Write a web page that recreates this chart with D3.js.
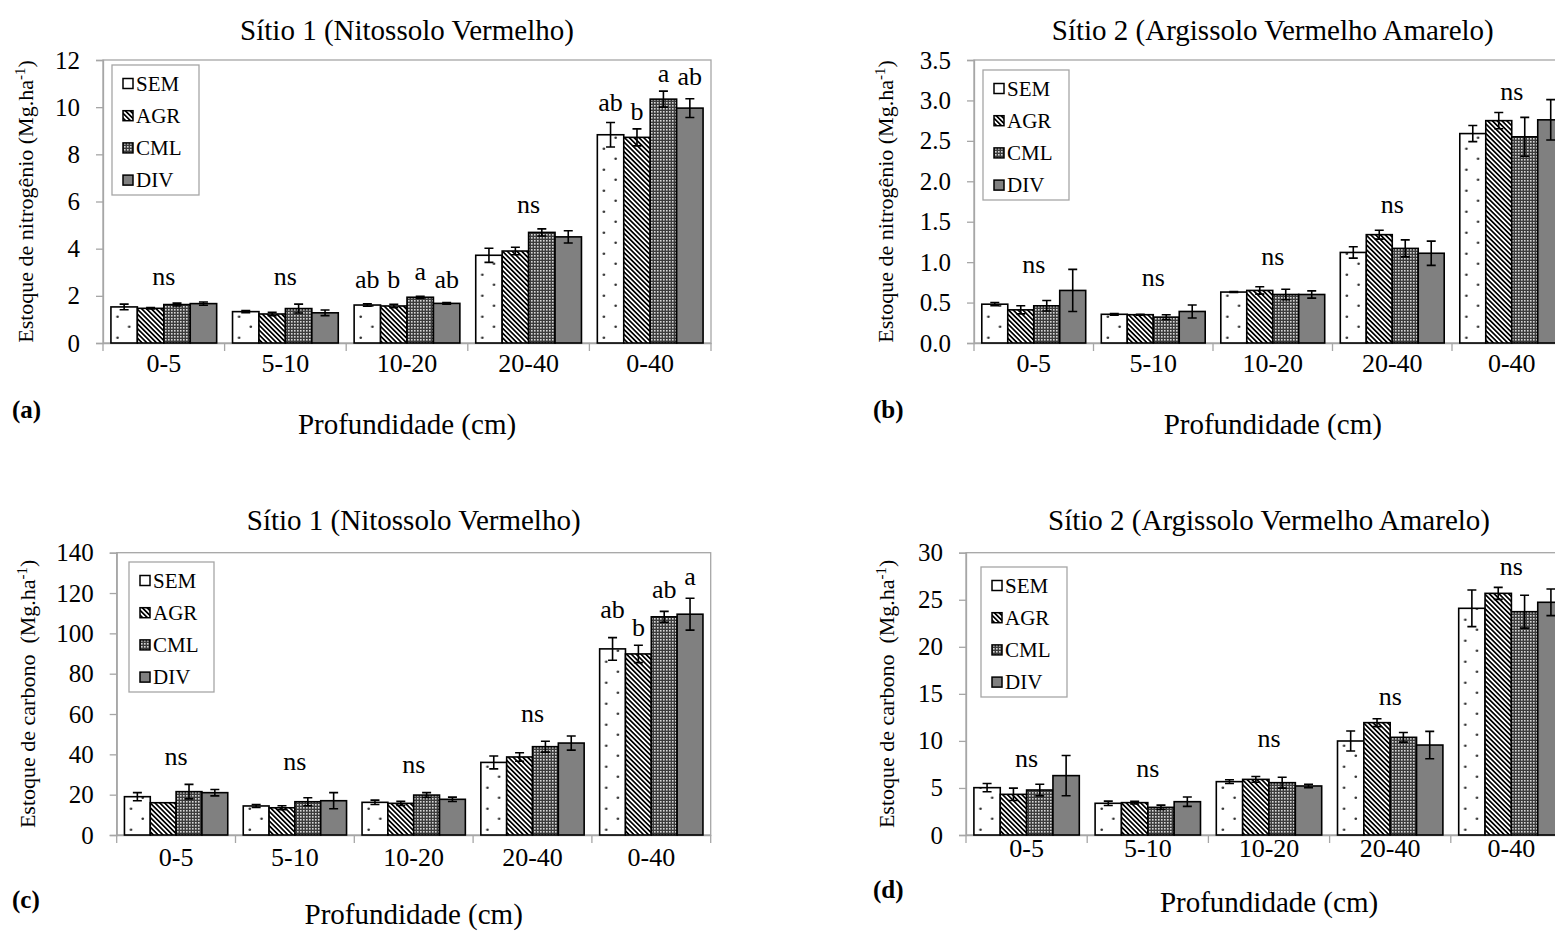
<!DOCTYPE html>
<html>
<head>
<meta charset="utf-8">
<script src="https://cdn.jsdelivr.net/npm/d3@7"></script>
<style>
  body { margin: 0; background: #fff; }
  text { font-family: "Liberation Serif", "Times New Roman", serif; fill: #000; }
</style>
</head>
<body>
<svg id="chart" width="1555" height="937"></svg>
<script>
// categories
const depths = ["0-5", "5-10", "10-20", "20-40", "0-40"];
const treatments = ["SEM", "AGR", "CML", "DIV"];

// (a) nitrogen stock, Sítio 1 — one row per depth, one value per treatment
const nSite1 = [[1.53, 1.47, 1.63, 1.67], [1.33, 1.23, 1.46, 1.28], [1.61, 1.57, 1.94, 1.68], [3.72, 3.90, 4.69, 4.50], [8.83, 8.72, 10.34, 9.96]];
const nSite1Err = [[0.12, 0.03, 0.06, 0.07], [0.05, 0.07, 0.19, 0.12], [0.05, 0.07, 0.04, 0.04], [0.30, 0.16, 0.15, 0.26], [0.52, 0.36, 0.34, 0.40]];
const nSite1Marks = [["ns"], ["ns"], ["ab", "b", "a", "ab"], ["ns"], ["ab", "b", "a", "ab"]];
const nSite1MarkY = [[2.46], [2.46], [2.32, 2.32, 2.67, 2.33], [5.51], [9.84, 9.45, 11.07, 10.93]];
const nSite1Ticks = [0, 2, 4, 6, 8, 10, 12];

// (b) nitrogen stock, Sítio 2
const nSite2 = [[0.48, 0.41, 0.46, 0.65], [0.355, 0.35, 0.32, 0.39], [0.63, 0.65, 0.60, 0.60], [1.12, 1.34, 1.17, 1.11], [2.59, 2.75, 2.55, 2.76]];
const nSite2Err = [[0.02, 0.05, 0.065, 0.26], [0.01, 0.005, 0.03, 0.08], [0.005, 0.045, 0.065, 0.045], [0.07, 0.055, 0.105, 0.15], [0.10, 0.10, 0.24, 0.25]];
const nSite2Marks = [["ns"], ["ns"], ["ns"], ["ns"], ["ns"]];
const nSite2MarkY = [[0.87], [0.70], [0.97], [1.61], [3.0]];
const nSite2Ticks = [0, 0.5, 1, 1.5, 2, 2.5, 3, 3.5];

// (c) carbon stock, Sítio 1
const cSite1 = [[19.0, 16.0, 21.5, 21.0], [14.4, 13.5, 16.5, 17.0], [16.2, 15.7, 19.8, 17.7], [36.0, 38.7, 43.8, 45.6], [92.3, 89.8, 108.2, 109.5]];
const cSite1Err = [[2.0, 0, 3.6, 1.6], [0.7, 1.0, 2.0, 4.0], [1.1, 1.0, 1.2, 1.1], [3.2, 2.1, 2.7, 3.5], [5.6, 4.3, 2.7, 7.9]];
const cSite1Marks = [["ns"], ["ns"], ["ns"], ["ns"], ["ab", "b", "ab", "a"]];
const cSite1MarkY = [[34.7], [32.2], [30.8], [56.2], [107.5, 98.7, 117.4, 124.0]];
const cSite1Ticks = [0, 20, 40, 60, 80, 100, 120, 140];

// (d) carbon stock, Sítio 2
const cSite2 = [[5.03, 4.32, 4.78, 6.31], [3.37, 3.44, 2.94, 3.54], [5.67, 5.91, 5.56, 5.21], [9.99, 11.94, 10.38, 9.56], [24.09, 25.68, 23.73, 24.73]];
const cSite2Err = [[0.44, 0.66, 0.62, 2.14], [0.23, 0.15, 0.23, 0.5], [0.2, 0.3, 0.58, 0.18], [1.06, 0.42, 0.51, 1.45], [1.95, 0.64, 1.75, 1.42]];
const cSite2Marks = [["ns"], ["ns"], ["ns"], ["ns"], ["ns"]];
const cSite2MarkY = [[7.19], [6.2], [9.38], [13.8], [27.6]];
const cSite2Ticks = [0, 5, 10, 15, 20, 25, 30];

const svg = d3.select("#chart");
const AXIS_GREY = "#a6a6a6";
// font sizes (px)
const FS_TICK = 25, FS_CAT = 26, FS_MARK = 26, FS_LEG = 21, FS_TITLE = 29, FS_YT = 22, FS_TAG = 25;

// ---- fill patterns ----
const defs = svg.append("defs");

const stripes = defs.append("pattern")
    .attr("id", "stripes")
    .attr("patternUnits", "userSpaceOnUse")
    .attr("width", 3.4).attr("height", 3.4)
    .attr("patternTransform", "rotate(-45)");
stripes.append("rect").attr("width", 3.4).attr("height", 3.4).attr("fill", "#fff");
stripes.append("rect").attr("width", 1.7).attr("height", 3.4).attr("fill", "#000");

const checks = defs.append("pattern")
    .attr("id", "checks")
    .attr("patternUnits", "userSpaceOnUse")
    .attr("width", 3).attr("height", 3);
checks.append("rect").attr("width", 3).attr("height", 3).attr("fill", "#3c3c3c");
checks.append("rect").attr("width", 1.6).attr("height", 1.6).attr("fill", "#d8d8d8");

// dotted fill for SEM bars, anchored to each bar so the dots line up like the original
function dotPattern(id, x, y) {
    const p = defs.append("pattern")
        .attr("id", id)
        .attr("patternUnits", "userSpaceOnUse")
        .attr("x", x).attr("y", y)
        .attr("width", 23.4).attr("height", 21);
    p.append("rect").attr("width", 23.4).attr("height", 21).attr("fill", "#fff");
    p.append("circle").attr("cx", 6.6).attr("cy", 15.7).attr("r", 1.3).attr("fill", "#333");
    p.append("circle").attr("cx", 18.3).attr("cy", 4.7).attr("r", 1.3).attr("fill", "#333");
    return `url(#${id})`;
}

const fills = { AGR: "url(#stripes)", CML: "url(#checks)", DIV: "#808080" };

// ---- panel layout ----
const panels = [
    { key: "a", vals: nSite1, errs: nSite1Err, marks: nSite1Marks, markY: nSite1MarkY, ticks: nSite1Ticks, fmt: d3.format("d"),
      x0: 103, x1: 711, y0: 60, y1: 343, title: "Sítio 1 (Nitossolo Vermelho)", titleY: 40,
      yLabel: "Estoque de nitrogênio (Mg.ha", yLabelX: 33, catY: 372, xLabelY: 434, tagX: 12, tagY: 418,
      legend: [112, 65, 87, 130] },
    { key: "b", vals: nSite2, errs: nSite2Err, marks: nSite2Marks, markY: nSite2MarkY, ticks: nSite2Ticks, fmt: d3.format(".1f"),
      x0: 974, x1: 1571.5, y0: 60, y1: 343, title: "Sítio 2 (Argissolo Vermelho Amarelo)", titleY: 40,
      yLabel: "Estoque de nitrogênio (Mg.ha", yLabelX: 893, catY: 372, xLabelY: 434, tagX: 873, tagY: 418,
      legend: [983, 70, 86, 130] },
    { key: "c", vals: cSite1, errs: cSite1Err, marks: cSite1Marks, markY: cSite1MarkY, ticks: cSite1Ticks, fmt: d3.format("d"),
      x0: 116.7, x1: 710.7, y0: 552.7, y1: 835, title: "Sítio 1 (Nitossolo Vermelho)", titleY: 530,
      yLabel: "Estoque de carbono  (Mg.ha", yLabelX: 35, catY: 866, xLabelY: 924, tagX: 12, tagY: 908,
      legend: [129, 562, 85, 130] },
    { key: "d", vals: cSite2, errs: cSite2Err, marks: cSite2Marks, markY: cSite2MarkY, ticks: cSite2Ticks, fmt: d3.format("d"),
      x0: 966, x1: 1572, y0: 552.7, y1: 835, title: "Sítio 2 (Argissolo Vermelho Amarelo)", titleY: 530,
      yLabel: "Estoque de carbono  (Mg.ha", yLabelX: 894, catY: 857, xLabelY: 912, tagX: 873, tagY: 898,
      legend: [981, 567, 86, 130] }
];

panels.forEach(drawPanel);

function drawPanel(p) {
    const g = svg.append("g").attr("class", "panel-" + p.key);
    const yMax = p.ticks[p.ticks.length - 1];

    const x = d3.scaleBand().domain(depths).range([p.x0, p.x1]).paddingInner(0).paddingOuter(0);
    // Excel-style gap: 60% of one bar width split on both sides of a group
    const xIn = d3.scaleBand().domain(treatments).range([0, x.bandwidth()])
        .paddingInner(0).paddingOuter(0.3);
    const y = d3.scaleLinear().domain([0, yMax]).range([p.y1, p.y0]);

    // plot area border
    g.append("rect")
        .attr("x", p.x0).attr("y", p.y0)
        .attr("width", p.x1 - p.x0).attr("height", p.y1 - p.y0)
        .attr("fill", "none").attr("stroke", AXIS_GREY).attr("stroke-width", 1.3);

    // y axis
    const yAxis = g.append("g")
        .attr("transform", `translate(${p.x0},0)`)
        .call(d3.axisLeft(y).tickValues(p.ticks).tickFormat(p.fmt).tickSize(7).tickPadding(16));
    yAxis.select(".domain").attr("stroke", AXIS_GREY).attr("stroke-width", 1.3);
    yAxis.selectAll(".tick line").attr("stroke", AXIS_GREY).attr("stroke-width", 1.3);
    yAxis.selectAll("text").attr("font-size", FS_TICK).attr("font-family", "Liberation Serif").attr("fill", "#000");

    // x axis: labels at group centres, ticks on group boundaries
    const xAxis = g.append("g")
        .attr("transform", `translate(0,${p.y1})`)
        .call(d3.axisBottom(x).tickSize(0).tickPadding(0));
    xAxis.select(".domain").attr("stroke", AXIS_GREY).attr("stroke-width", 1.3);
    xAxis.selectAll("text")
        .attr("y", p.catY - p.y1).attr("dy", 0)
        .attr("font-size", FS_CAT).attr("font-family", "Liberation Serif").attr("fill", "#000");
    const bounds = depths.map(d => x(d)).concat([x(depths[depths.length - 1]) + x.bandwidth()]);
    g.selectAll(".xtick").data(bounds).join("line")
        .attr("x1", d => d).attr("x2", d => d)
        .attr("y1", p.y1).attr("y2", p.y1 + 8)
        .attr("stroke", AXIS_GREY).attr("stroke-width", 1.3);

    // bars
    const rows = p.vals.flatMap((row, i) => row.map((v, j) => ({
        depth: depths[i], trt: treatments[j], v: v, e: p.errs[i][j], gi: i, ti: j
    })));

    g.append("g").selectAll("rect").data(rows).join("rect")
        .attr("x", d => x(d.depth) + xIn(d.trt))
        .attr("y", d => y(d.v))
        .attr("width", xIn.bandwidth())
        .attr("height", d => y(0) - y(d.v))
        .attr("stroke", "#000").attr("stroke-width", 1.6)
        .attr("fill", d => d.trt === "SEM"
            ? dotPattern(`dots-${p.key}-${d.gi}`, x(d.depth) + xIn(d.trt), p.y1)
            : fills[d.trt]);

    // error bars
    const cap = 4.5;
    const eb = g.append("g").attr("stroke", "#000").attr("stroke-width", 1.6).attr("fill", "none");
    rows.filter(d => d.e > 0).forEach(d => {
        const cx = x(d.depth) + xIn(d.trt) + xIn.bandwidth() / 2;
        const top = y(d.v + d.e), bot = y(d.v - d.e);
        eb.append("path").attr("d",
            `M${cx},${top}V${bot}M${cx - cap},${top}H${cx + cap}M${cx - cap},${bot}H${cx + cap}`);
    });

    // significance letters
    p.marks.forEach((m, i) => {
        m.forEach((txt, j) => {
            const cx = m.length === 1
                ? x(depths[i]) + x.bandwidth() / 2
                : x(depths[i]) + xIn(treatments[j]) + xIn.bandwidth() / 2;
            g.append("text")
                .attr("x", cx).attr("y", y(p.markY[i][j]))
                .attr("text-anchor", "middle")
                .attr("font-size", FS_MARK)
                .text(txt);
        });
    });

    // legend
    const [lx, ly, lw, lh] = p.legend;
    const lg = g.append("g").attr("transform", `translate(${lx},${ly})`);
    lg.append("rect").attr("width", lw).attr("height", lh)
        .attr("fill", "#fff").attr("stroke", AXIS_GREY).attr("stroke-width", 1.3);
    treatments.forEach((t, i) => {
        const cy = 18.5 + i * 32.2;
        lg.append("rect")
            .attr("x", 11).attr("y", cy - 5).attr("width", 10).attr("height", 10)
            .attr("fill", t === "SEM" ? "#fff" : fills[t])
            .attr("stroke", "#000").attr("stroke-width", 1.5);
        lg.append("text").attr("x", 24).attr("y", cy + 7)
            .attr("font-size", FS_LEG).text(t);
    });

    // titles
    const cxPlot = (p.x0 + p.x1) / 2;
    g.append("text").attr("x", cxPlot).attr("y", p.titleY)
        .attr("text-anchor", "middle").attr("font-size", FS_TITLE).text(p.title);
    g.append("text").attr("x", cxPlot).attr("y", p.xLabelY)
        .attr("text-anchor", "middle").attr("font-size", FS_TITLE).text("Profundidade (cm)");
    g.append("text").attr("x", p.tagX).attr("y", p.tagY)
        .attr("font-size", FS_TAG).attr("font-weight", "bold").text(`(${p.key})`);

    const yl = g.append("text")
        .attr("transform", `translate(${p.yLabelX},${(p.y0 + p.y1) / 2}) rotate(-90)`)
        .attr("text-anchor", "middle").attr("font-size", FS_YT)
        .style("white-space", "pre");
    yl.append("tspan").text(p.yLabel);
    yl.append("tspan").attr("dy", -8).attr("font-size", 15).text("-1");
    yl.append("tspan").attr("dy", 8).text(")");
}
</script>
</body>
</html>
